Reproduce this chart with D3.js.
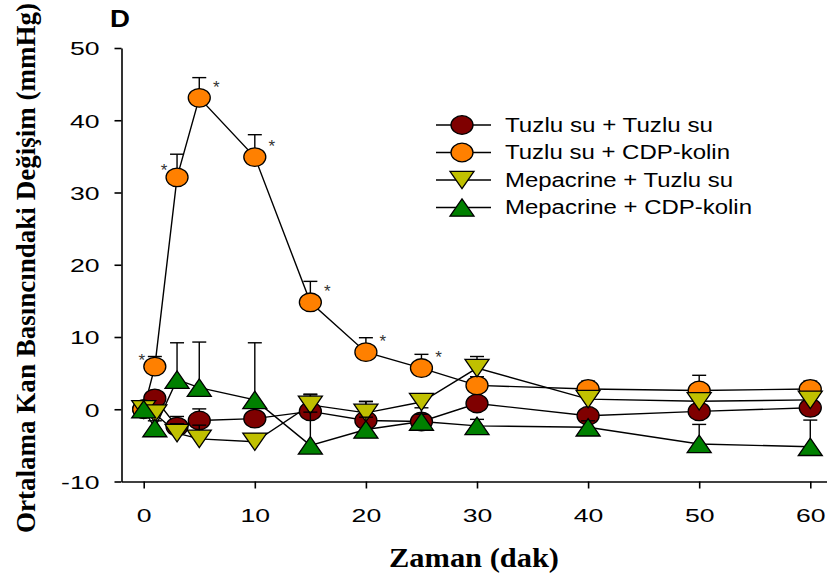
<!DOCTYPE html>
<html><head><meta charset="utf-8">
<script src="https://cdn.jsdelivr.net/npm/d3@7"></script>
<style>body{margin:0;background:#fff} svg{display:block}</style>
</head><body><svg id="c" width="827" height="581"></svg>
<script>
// ---- data ----
const times = [0, 1, 3, 5, 10, 15, 20, 25, 30, 40, 50, 60];
const seriesNames = ["Tuzlu su + Tuzlu su", "Tuzlu su + CDP-kolin", "Mepacrine + Tuzlu su", "Mepacrine + CDP-kolin"];
const salineSaline    = [0, 1.5, -2.4, -1.55, -1.3, -0.3, -1.55, -1.7, 0.8, -0.9, -0.3, 0.2];
const salineSalineErr = [0, 0.4, 1.4, 1.6, 1.0, 2.4, 2.6, 1.9, 0.8, 0.8, 0.6, 0.6];
const salineCdp       = [0, 5.9, 32.1, 43.1, 34.9, 14.8, 7.9, 5.7, 3.3, 2.8, 2.6, 2.8];
const salineCdpErr    = [0, 1.4, 3.2, 2.8, 3.1, 2.9, 2.0, 1.9, 1.2, 1.1, 2.1, 1.1];
const mepSaline       = [0, -0.6, -3.3, -4.1, -4.5, 0.6, -0.5, 1.0, 5.7, 1.4, 1.1, 1.3];
const mepSalineErr    = [0, 0.3, 1.3, 1.9, 1.0, 1.4, 1.6, 0.8, 1.6, 0.9, 0.9, 0.9];
const mepCdp          = [0, -2.6, 4.1, 3.0, 1.3, -5.0, -2.8, -1.7, -2.3, -2.5, -4.8, -5.2];
const mepCdpErr       = [0, 1.0, 5.1, 6.3, 7.9, 4.6, 1.7, 1.0, 0.9, 0.9, 2.7, 3.7];
const starTimes = [1, 3, 5, 10, 15, 20, 25];
const xTicks = [0, 10, 20, 30, 40, 50, 60];
const yTicks = [-10, 0, 10, 20, 30, 40, 50];

const series = [
  {name: seriesNames[0], vals: salineSaline, err: salineSalineErr, color: "#7f0000", shape: "circle"},
  {name: seriesNames[1], vals: salineCdp,    err: salineCdpErr,    color: "#ff8000", shape: "circle"},
  {name: seriesNames[2], vals: mepSaline,    err: mepSalineErr,    color: "#c0c000", shape: "down"},
  {name: seriesNames[3], vals: mepCdp,       err: mepCdpErr,       color: "#008000", shape: "up"}
];

const svg = d3.select("#c");
const x = d3.scaleLinear().domain([-2, 62]).range([121.5, 832.5]);
const y = d3.scaleLinear().domain([-10, 50]).range([481.5, 48]);
const FONT = "Arial, 'Liberation Sans', Helvetica, sans-serif";
const SERIF = "'Times New Roman', 'Liberation Serif', serif";
const fmt = d => String(d);

// axes
const gy = svg.append("g").attr("transform", "translate(121.5,0)")
  .call(d3.axisLeft(y).tickValues(yTicks).tickFormat(fmt).tickSize(7).tickSizeOuter(0));
const gx = svg.append("g").attr("transform", "translate(0,481.5)")
  .call(d3.axisBottom(x).tickValues(xTicks).tickFormat(fmt).tickSize(7).tickSizeOuter(0));
[gy, gx].forEach(g => {
  g.select(".domain").attr("stroke", "#000").attr("stroke-width", 1.6);
  g.selectAll(".tick line").attr("stroke", "#000").attr("stroke-width", 1.6);
  g.selectAll(".tick text").attr("fill", "#000").style("font-family", FONT).style("font-size", "19px");
});
gy.selectAll(".tick text").attr("x", 0).attr("dy", "0.36em").attr("text-anchor", "end")
  .attr("transform", "translate(-22,0) scale(1.4,1)");
gx.selectAll(".tick text").attr("y", 0).attr("dy", 0).attr("text-anchor", "middle")
  .attr("transform", "translate(0,40.5) scale(1.4,1)");

// lines
const line = d3.line().x((d, i) => x(times[i])).y(d => y(d));
series.forEach(s => {
  svg.append("path").datum(s.vals).attr("d", line)
    .attr("fill", "none").attr("stroke", "#000").attr("stroke-width", 1.4);
});

function markerPath(shape) {
  if (shape === "up") return "M0,-8.7L12,8.7L-12,8.7Z";
  if (shape === "down") return "M0,8.7L12,-8.7L-12,-8.7Z";
  return null;
}
function drawMarker(g, shape, color, cx, cy) {
  if (shape === "circle") {
    g.append("ellipse").attr("cx", cx).attr("cy", cy).attr("rx", 11).attr("ry", 9.3)
      .attr("fill", color).attr("stroke", "#000").attr("stroke-width", 1.3);
  } else {
    g.append("path").attr("d", markerPath(shape)).attr("transform", `translate(${cx},${cy})`)
      .attr("fill", color).attr("stroke", "#000").attr("stroke-width", 1.3).attr("stroke-linejoin", "miter");
  }
}

// error bars + markers per series
series.forEach(s => {
  const g = svg.append("g");
  s.vals.forEach((v, i) => {
    if (s.err[i] > 0) {
      const cx = x(times[i]), y0 = y(v), y1 = y(v + s.err[i]);
      g.append("line").attr("x1", cx).attr("x2", cx).attr("y1", y0).attr("y2", y1)
        .attr("stroke", "#000").attr("stroke-width", 1.4);
      g.append("line").attr("x1", cx - 7).attr("x2", cx + 7).attr("y1", y1).attr("y2", y1)
        .attr("stroke", "#000").attr("stroke-width", 1.4);
    }
  });
  s.vals.forEach((v, i) => drawMarker(g, s.shape, s.color, x(times[i]), y(v)));
});

// significance stars (Tuzlu su + CDP-kolin)
starTimes.forEach((t, k) => {
  const i = times.indexOf(t);
  const cx = x(t), cy = y(salineCdp[i]);
  const left = k < 2;
  svg.append("text").text("*")
    .attr("x", left ? cx - 13 : cx + 17).attr("y", left ? cy - 1 : cy - 5)
    .attr("text-anchor", "middle").attr("fill", "#333")
    .style("font-family", FONT).style("font-size", "17px");
});

// legend
const legY0 = 125, legDy = 27.5;
const legW = [208, 225, 228, 247];
series.forEach((s, k) => {
  const ly = legY0 + k * legDy;
  svg.append("line").attr("x1", 436).attr("x2", 491).attr("y1", ly).attr("y2", ly)
    .attr("stroke", "#000").attr("stroke-width", 1.4);
  drawMarker(svg, s.shape, s.color, 462, ly);
  svg.append("text").text(s.name).attr("x", 505).attr("y", ly + 6.8)
    .attr("textLength", legW[k]).attr("lengthAdjust", "spacingAndGlyphs")
    .attr("fill", "#000").style("font-family", FONT).style("font-size", "20px");
});

// panel label
svg.append("text").text("D").attr("transform", "translate(110,26.7) scale(1.2,1)")
  .style("font-family", FONT).style("font-size", "23px").style("font-weight", "bold");

// axis titles
svg.append("text").text("Zaman (dak)").attr("x", 474).attr("y", 566.5)
  .attr("text-anchor", "middle").attr("textLength", 170).attr("lengthAdjust", "spacingAndGlyphs")
  .style("font-family", SERIF).style("font-size", "28px").style("font-weight", "bold");
svg.append("text").text("Ortalama Kan Basıncındaki Değişim (mmHg)")
  .attr("transform", "translate(35,268) rotate(-90)")
  .attr("text-anchor", "middle").attr("textLength", 530).attr("lengthAdjust", "spacingAndGlyphs")
  .style("font-family", SERIF).style("font-size", "27px").style("font-weight", "bold");
</script></body></html>
